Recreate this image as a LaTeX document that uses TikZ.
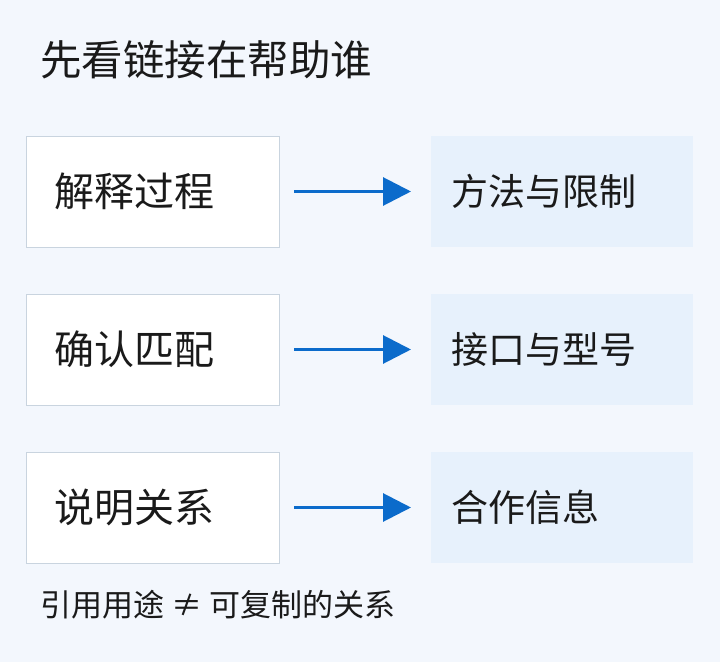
\documentclass[tikz,border=0pt]{standalone}
\usepackage{fontspec}
\setmainfont{Noto Sans CJK SC}
\usetikzlibrary{arrows.meta}
\definecolor{bg}{HTML}{F3F7FD}
\definecolor{bd}{HTML}{C9D4DF}
\definecolor{rf}{HTML}{E7F1FC}
\definecolor{ab}{HTML}{0B6BCB}
\definecolor{tx}{HTML}{1A1A1A}
\begin{document}
\begin{tikzpicture}[x=1pt,y=1pt,
 lbox/.style={draw=bd,line width=1.2pt,fill=white,minimum width=253pt,minimum height=111pt,anchor=north west,inner sep=0pt},
 rbox/.style={fill=rf,minimum width=262pt,minimum height=111pt,anchor=north west,inner sep=0pt},
 lt/.style={anchor=west,text=tx,font=\fontsize{40}{44}\selectfont},
 rt/.style={anchor=west,text=tx,font=\fontsize{37}{40}\selectfont},
 arr/.style={draw=ab,line width=3pt,-{Triangle[length=28pt,width=28pt]}}]
\fill[bg] (0,0) rectangle (720,662);
\useasboundingbox (0,0) rectangle (720,662);
\node[anchor=west,text=tx,font=\fontsize{41.5}{45}\selectfont,inner sep=0pt] (title) at (40,602) {先看链接在帮助谁};
\foreach \i/\y/\a/\b in {1/526/解释过程/方法与限制,2/368/确认匹配/接口与型号,3/210/说明关系/合作信息}{
 \node[lbox] (l\i) at (26,\y) {};
 \node[rbox] (r\i) at (431,\y) {};
 \node[lt,inner sep=0pt] (lt\i) at (54,\y-55.5) {\a};
 \node[rt,inner sep=0pt] (rt\i) at (451,\y-55.5) {\b};
 \coordinate (s\i) at (294,\y-55.5);
 \coordinate (e\i) at (411,\y-55.5);
 \draw[arr] (s\i) -- (e\i);
}
\node[anchor=west,text=tx,font=\fontsize{31}{34}\selectfont,inner sep=0pt] (note) at (40,57) {引用用途 ≠ 可复制的关系};
\end{tikzpicture}
\end{document}
